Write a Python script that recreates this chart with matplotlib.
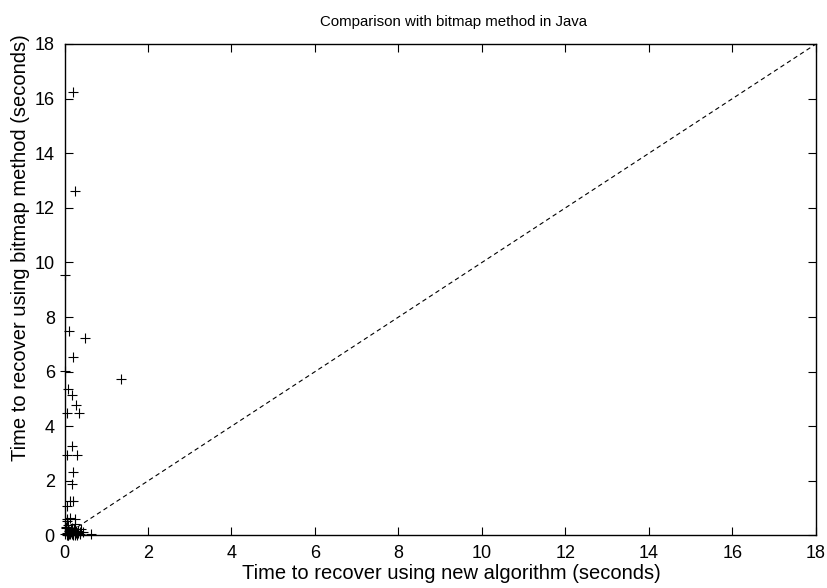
import matplotlib.pyplot as plt

# temps (secondes) : nouvel algorithme vs méthode bitmap
new_algo = [0.20, 0.24, 0.00, 0.11, 0.50, 0.21, 0.00, 1.35, 0.08, 0.18,
            0.27, 0.34, 0.05, 0.19, 0.06, 0.30, 0.21, 0.19, 0.13, 0.21,
            0.07, 0.06, 0.24, 0.05, 0.14, 0.26, 0.09, 0.63,
            0.02, 0.05, 0.08, 0.10, 0.12, 0.15, 0.18, 0.20, 0.22, 0.25,
            0.28, 0.30, 0.33, 0.36, 0.40, 0.03, 0.07, 0.11, 0.16, 0.21,
            0.27, 0.32, 0.38, 0.44, 0.04, 0.09, 0.14, 0.19, 0.24, 0.29]
bitmap = [16.23, 12.60, 9.54, 7.49, 7.22, 6.52, 6.02, 5.72, 5.37, 5.14,
          4.77, 4.50, 4.50, 3.28, 2.96, 2.96, 2.32, 1.90, 1.28, 1.26,
          1.09, 0.53, 0.61, 0.61, 0.65, 0.43, 0.37, 0.06,
          0.05, 0.10, 0.02, 0.15, 0.08, 0.20, 0.04, 0.12, 0.25, 0.06,
          0.18, 0.03, 0.10, 0.14, 0.22, 0.28, 0.01, 0.07, 0.11, 0.03,
          0.09, 0.16, 0.05, 0.12, 0.30, 0.02, 0.04, 0.26, 0.01, 0.08]

plt.rcParams['font.family'] = ['Liberation Sans', 'DejaVu Sans']

fig = plt.figure(figsize=(8.28, 5.88), dpi=100)
ax = fig.add_axes([0.0779, 0.0893, 0.9076, 0.8359])

ax.plot(new_algo, bitmap, linestyle='none', marker='+', color='black',
        markersize=7, markeredgewidth=0.8, clip_on=False, zorder=3)
ax.plot([0, 18], [0, 18], linestyle=(0, (4, 3)), color='black', linewidth=0.8)

ax.set_xlim(0, 18)
ax.set_ylim(0, 18)
ax.set_xticks(range(0, 19, 2))
ax.set_yticks(range(0, 19, 2))
ax.tick_params(direction='in', length=6, width=0.8, top=True, right=True,
               labelsize=13)
ax.tick_params(axis='x', pad=7)
ax.tick_params(axis='y', pad=7)
for s in ax.spines.values():
    s.set_linewidth(1.0)

ax.set_title('Comparison with bitmap method in Java', fontsize=10.8, pad=13, x=0.518)
ax.set_xlabel('Time to recover using new algorithm (seconds)', fontsize=14.5, labelpad=1)
ax.xaxis.label.set_x(0.515)
ax.set_ylabel('Time to recover using bitmap method (seconds)', fontsize=14.5, labelpad=3)
ax.yaxis.label.set_y(0.585)

fig.savefig('out.png', dpi=100)
